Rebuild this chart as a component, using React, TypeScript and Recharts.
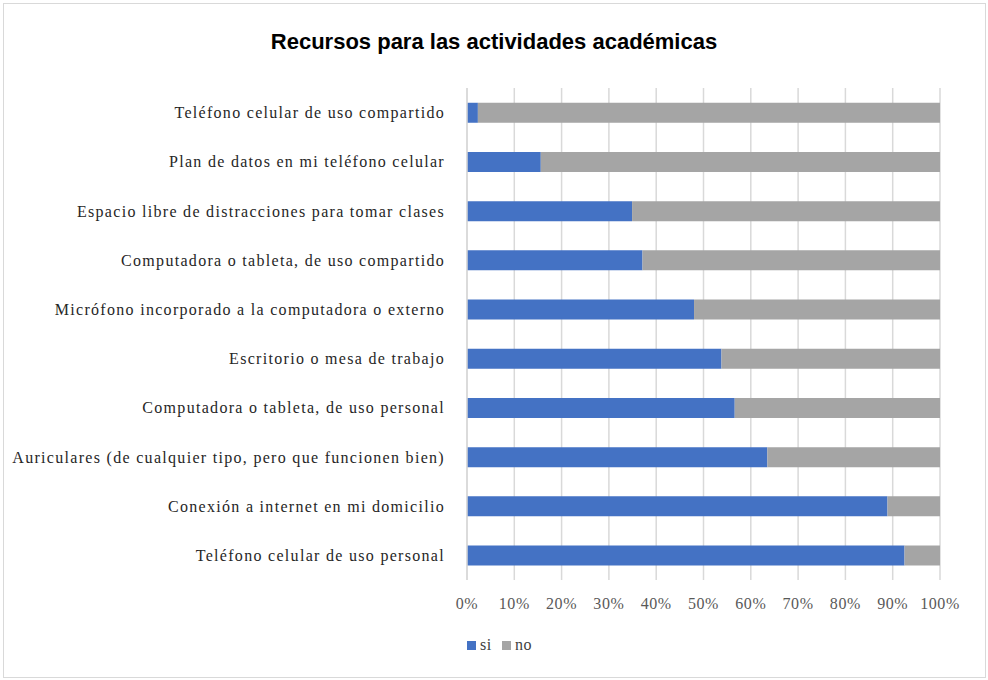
import { BarChart, Bar, XAxis, YAxis, CartesianGrid } from 'recharts'

const CATEGORIES = [
  'Teléfono celular de uso compartido',
  'Plan de datos en mi teléfono celular',
  'Espacio libre de distracciones para tomar clases',
  'Computadora o tableta, de uso compartido',
  'Micrófono incorporado a la computadora o externo',
  'Escritorio o mesa de trabajo',
  'Computadora o tableta, de uso personal',
  'Auriculares (de cualquier tipo, pero que funcionen bien)',
  'Conexión a internet en mi domicilio',
  'Teléfono celular de uso personal',
]

const SI = [2.3, 15.6, 34.9, 37.1, 48.0, 53.8, 56.6, 63.5, 88.9, 92.5]
const NO = [97.7, 84.4, 65.1, 62.9, 52.0, 46.2, 43.4, 36.5, 11.1, 7.5]

const X_TICKS = [0, 10, 20, 30, 40, 50, 60, 70, 80, 90, 100]

const SERIES = [
  { key: 'si', color: '#4472c4' },
  { key: 'no', color: '#a5a5a5' },
]

const data = CATEGORIES.map((name, i) => ({ name, si: SI[i], no: NO[i] }))

const SERIF = '"Liberation Serif", "DejaVu Serif", serif'

export default function App() {
  return (
    <div
      style={{
        position: 'absolute',
        top: 0,
        left: 0,
        width: 988,
        height: 680,
        background: '#fff',
      }}
    >
      <div
        style={{
          position: 'absolute',
          left: 3,
          top: 3,
          width: 981,
          height: 673,
          border: '1px solid #d9d9d9',
        }}
      />
      <div
        style={{
          position: 'absolute',
          top: 29,
          left: 0,
          width: 988,
          textAlign: 'center',
          fontFamily: '"Liberation Sans Narrow", "Liberation Sans", Arial, sans-serif',
          fontWeight: 'bold',
          fontSize: 22,
          color: '#000',
        }}
      >
        Recursos para las actividades académicas
      </div>
      <div style={{ position: 'absolute', top: 0, left: 0 }}>
        <BarChart
          width={988}
          height={680}
          data={data}
          layout="vertical"
          margin={{ top: 88, right: 48, bottom: 70, left: 0 }}
          barCategoryGap="30%"
        >
          <CartesianGrid horizontal={false} stroke="#d9d9d9" strokeWidth={1.5} />
          <XAxis
            type="number"
            domain={[0, 100]}
            ticks={X_TICKS}
            tickFormatter={(v: number) => `${v}%`}
            axisLine={false}
            tickLine={false}
            tickMargin={12}
            height={30}
            tick={{ fontSize: 16, fill: '#595959', fontFamily: SERIF, letterSpacing: 0.6 }}
          />
          <YAxis
            type="category"
            dataKey="name"
            width={467}
            axisLine={{ stroke: '#d9d9d9', strokeWidth: 1.5 }}
            tickLine={false}
            tickMargin={16}
            interval={0}
            tick={{ fontSize: 16, fill: '#262626', fontFamily: SERIF, letterSpacing: 1.3 }}
          />
          {SERIES.map((s) => (
            <Bar key={s.key} dataKey={s.key} stackId="a" fill={s.color} isAnimationActive={false} />
          ))}
        </BarChart>
      </div>
      <div
        style={{
          position: 'absolute',
          top: 636,
          left: 467,
          display: 'flex',
          alignItems: 'center',
          fontFamily: SERIF,
          fontSize: 16,
          color: '#404040',
          letterSpacing: 0.6,
        }}
      >
        {SERIES.map((s) => (
          <span key={s.key} style={{ display: 'flex', alignItems: 'center', marginRight: 10 }}>
            <span
              style={{ width: 9, height: 9, background: s.color, display: 'inline-block', marginRight: 4 }}
            />
            {s.key}
          </span>
        ))}
      </div>
    </div>
  )
}
